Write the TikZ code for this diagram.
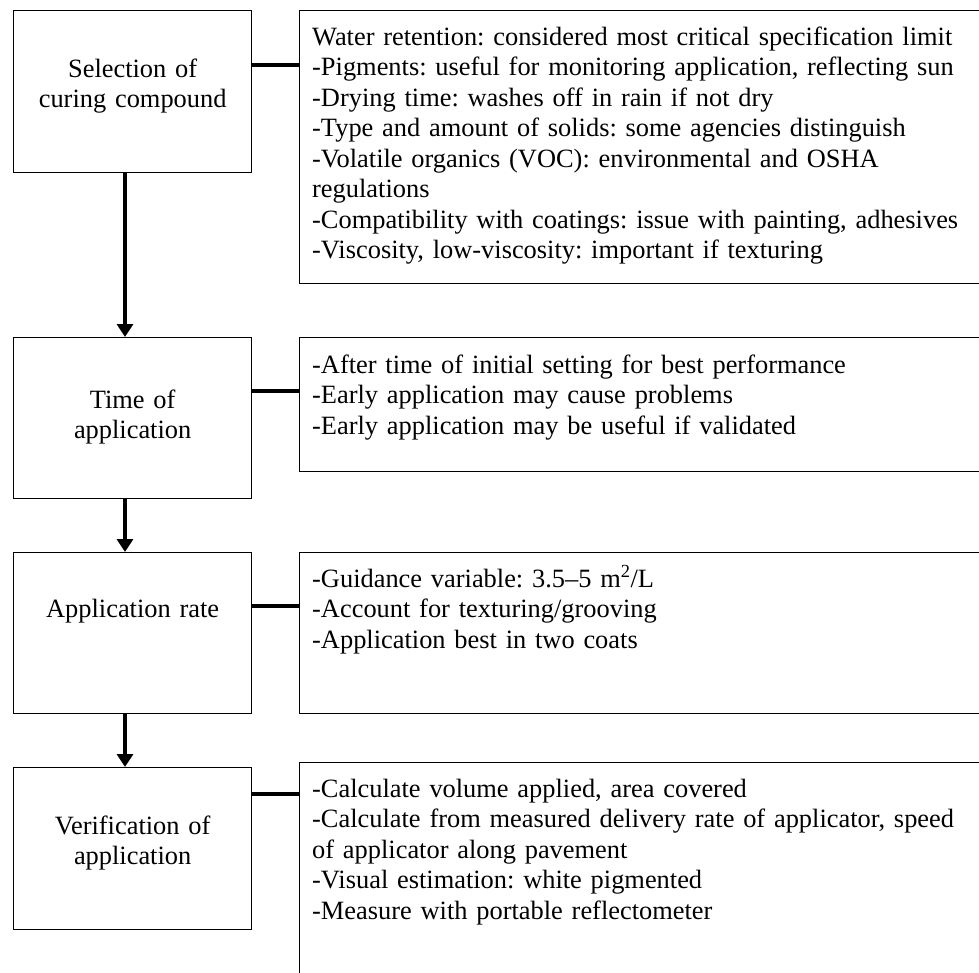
\documentclass[tikz,border=0pt]{standalone}
\usepackage{fontspec}
\setmainfont{Liberation Serif}
\usetikzlibrary{arrows.meta,calc}
\frenchspacing
\begin{document}
\begin{tikzpicture}[x=1pt,y=-1pt,
  lbox/.style={draw,line width=1.3pt,inner sep=0pt,anchor=north west,minimum width=238pt},
  rbox/.style={draw,line width=1.3pt,inner sep=0pt,anchor=north west,minimum width=700pt},
  ltext/.style={anchor=base,inner sep=0pt,text width=238pt,align=center,font=\fontsize{26.4}{30.5}\selectfont},
  rtext/.style={anchor=base west,inner sep=0pt,text width=660pt,align=left,font=\fontsize{26.4}{30.5}\selectfont},
  link/.style={line width=4.3pt},
  flow/.style={line width=4.3pt,-{Triangle[width=16pt,length=13pt]}}]
\useasboundingbox (0,0) rectangle (979,972);
\clip (0,0) rectangle (979,972);
% left boxes
\node[lbox,minimum height=162pt] (s1) at (13,10) {};
\node[lbox,minimum height=161pt] (s2) at (13,337) {};
\node[lbox,minimum height=161pt] (s3) at (13,552) {};
\node[lbox,minimum height=162pt] (s4) at (13,767) {};
\node[ltext] (s1t) at ($(s1.north)+(0,67)$) {Selection of\\curing compound};
\node[ltext] (s2t) at ($(s2.north)+(0,71)$) {Time of\\application};
\node[ltext] (s3t) at ($(s3.north)+(0,65)$) {Application rate};
\node[ltext] (s4t) at ($(s4.north)+(0,67)$) {Verification of\\application};
% right boxes
\node[rbox,minimum height=273pt] (r1) at (299,10) {};
\node[rbox,minimum height=134pt] (r2) at (299,337) {};
\node[rbox,minimum height=161pt] (r3) at (299,552) {};
\node[rbox,minimum height=260pt] (r4) at (299,762) {};
\node[rtext] (r1t) at ($(r1.north west)+(13,35)$) {Water retention: considered most critical specification limit\\
-Pigments: useful for monitoring application, reflecting sun\\
-Drying time: washes off in rain if not dry\\
-Type and amount of solids: some agencies distinguish\\
-Volatile organics (VOC): environmental and OSHA\\
regulations\\
-Compatibility with coatings: issue with painting, adhesives\\
-Viscosity, low-viscosity: important if texturing};
\node[rtext] (r2t) at ($(r2.north west)+(13,36)$) {-After time of initial setting for best performance\\
-Early application may cause problems\\
-Early application may be useful if validated};
\node[rtext] (r3t) at ($(r3.north west)+(13,35)$) {-Guidance variable: 3.5–5 m\textsuperscript{2}/L\\
-Account for texturing/grooving\\
-Application best in two coats};
\node[rtext] (r4t) at ($(r4.north west)+(13,35)$) {-Calculate volume applied, area covered\\
-Calculate from measured delivery rate of applicator, speed\\
of applicator along pavement\\
-Visual estimation: white pigmented\\
-Measure with portable reflectometer};
% links
\draw[link] ($(s1.north east)+(0,55)$) -- ($(r1.north west)+(0,55)$);
\draw[link] ($(s2.north east)+(0,54)$) -- ($(r2.north west)+(0,54)$);
\draw[link] ($(s3.north east)+(0,54)$) -- ($(r3.north west)+(0,54)$);
\draw[link] ($(s4.north east)+(0,27)$) -- ($(r4.north west)+(0,32)$);
% flow arrows
\draw[flow] ($(s1.south west)+(112,0)$) -- ($(s2.north west)+(112,0)$);
\draw[flow] ($(s2.south west)+(112,0)$) -- ($(s3.north west)+(112,0)$);
\draw[flow] ($(s3.south west)+(112,0)$) -- ($(s4.north west)+(112,0)$);
\end{tikzpicture}
\end{document}
